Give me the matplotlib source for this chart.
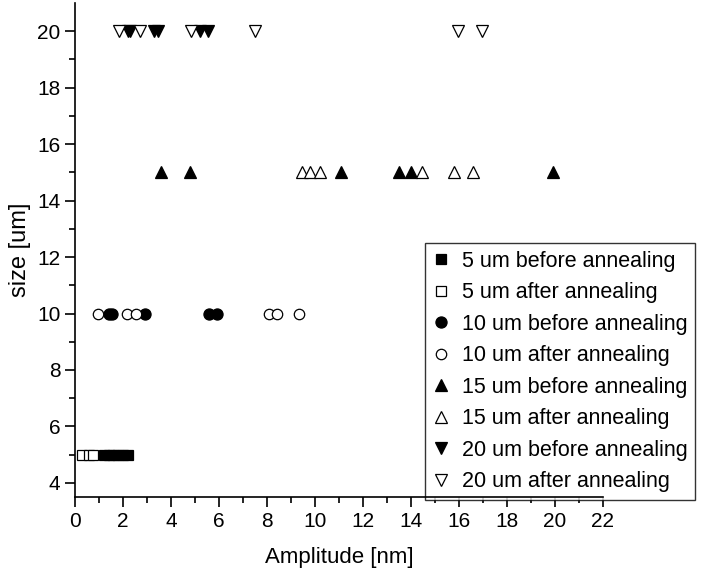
import matplotlib
matplotlib.use("Agg")
import matplotlib.pyplot as plt

plt.rcParams['font.family'] = ['Liberation Sans', 'DejaVu Sans']

# Data: amplitudes [nm] per sample size
amp_5_before = [1.2, 1.4, 1.6, 1.8, 2.0, 2.2]
amp_5_after = [0.3, 0.6, 0.75]
amp_10_before = [1.43, 1.55, 2.9, 5.6, 5.9]
amp_10_after = [0.97, 2.18, 2.54, 8.1, 8.43, 9.35]
amp_15_before = [3.6, 4.8, 11.1, 13.5, 14.0, 19.9]
amp_15_after = [9.45, 9.8, 10.2, 14.45, 15.8, 16.6]
amp_20_before = [2.2, 2.3, 3.3, 3.45, 5.2, 5.55]
amp_20_after = [1.85, 2.7, 4.85, 7.5, 15.95, 16.95]

sizes = [5, 5, 10, 10, 15, 15, 20, 20]
labels = ["5 um before annealing", "5 um after annealing",
          "10 um before annealing", "10 um after annealing",
          "15 um before annealing", "15 um after annealing",
          "20 um before annealing", "20 um after annealing"]
series = [amp_5_before, amp_5_after, amp_10_before, amp_10_after,
          amp_15_before, amp_15_after, amp_20_before, amp_20_after]
markers = ['s', 's', 'o', 'o', '^', '^', 'v', 'v']
filled = [True, False, True, False, True, False, True, False]
msizes = [7.0, 6.5, 8.0, 7.5, 9.0, 9.0, 9.0, 9.0]

fig = plt.figure(figsize=(7.03, 5.85), dpi=100)
ax = fig.add_axes([75/703, 1 - 497/585, 528/703, (497 - 3)/585])

for vals, s, lab, m, f, ms in zip(series, sizes, labels, markers, filled, msizes):
    ax.plot(vals, [s] * len(vals), linestyle='none', marker=m, markersize=ms,
            markerfacecolor='black' if f else 'white', markeredgecolor='black',
            markeredgewidth=0.9, label=lab)

ax.set_xlim(0, 22)
ax.set_ylim(3.5, 21)
ax.set_xticks(range(0, 23, 2))
ax.set_xticks(range(1, 22, 2), minor=True)
ax.set_yticks(range(4, 21, 2))
ax.set_yticks(range(5, 21, 2), minor=True)
ax.tick_params(axis='both', which='major', direction='out', length=7, width=1.2,
               labelsize=15)
ax.tick_params(axis='both', which='minor', direction='out', length=4, width=1.2)
for sp in ['top', 'right']:
    ax.spines[sp].set_visible(False)
for sp in ['left', 'bottom']:
    ax.spines[sp].set_linewidth(1.2)

ax.set_xlabel("Amplitude [nm]", fontsize=16, labelpad=12)
ax.set_ylabel("size [um]", fontsize=17, labelpad=4)

leg = ax.legend(loc='upper left', bbox_to_anchor=(425/703, 1 - 243/585),
                bbox_transform=fig.transFigure,
                fontsize=15.5, frameon=True, fancybox=False, edgecolor='black',
                handlelength=0.8, handletextpad=0.55, labelspacing=0.49,
                borderpad=0.35, borderaxespad=0.0, markerscale=1.0)
leg.get_frame().set_linewidth(1.0)
leg.set_clip_on(False)
leg.set_zorder(2)

fig.savefig("out.png", dpi=100)
